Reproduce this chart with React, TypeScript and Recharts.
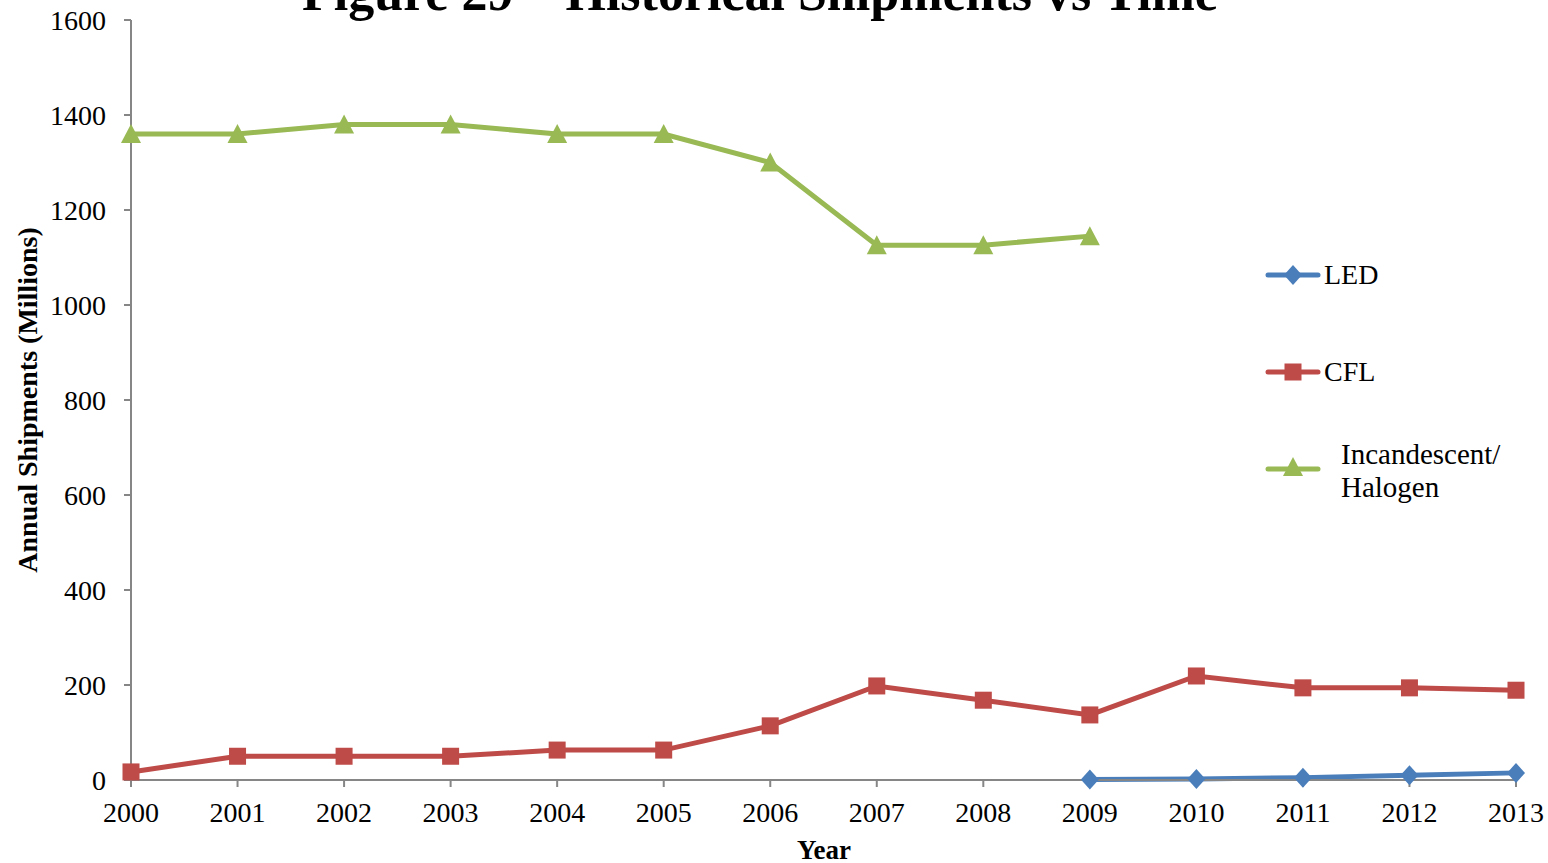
import { CartesianGrid, Line, LineChart, XAxis, YAxis } from "recharts";

const years = ["2000", "2001", "2002", "2003", "2004", "2005", "2006", "2007", "2008", "2009", "2010", "2011", "2012", "2013"];
const ledValues = [null, null, null, null, null, null, null, null, null, 1, 2, 5, 10, 15];
const cflValues = [17, 50, 50, 50, 63, 63, 114, 198, 168, 137, 219, 194, 194, 189];
const incandescentValues = [1360, 1360, 1380, 1380, 1360, 1360, 1300, 1126, 1126, 1145, null, null, null, null];
const yTicks = [0, 200, 400, 600, 800, 1000, 1200, 1400, 1600];

const chartData = years.map((year, i) => ({
  year,
  led: ledValues[i],
  cfl: cflValues[i],
  incandescent: incandescentValues[i],
}));

const LED_COLOR = "#4A7EBB";
const CFL_COLOR = "#BE4B48";
const INC_COLOR = "#98B954";
const AXIS_COLOR = "#868686";
const FONT = "'Liberation Serif', 'DejaVu Serif', serif";

function diamond(cx: number, cy: number, color: string) {
  return <path d={`M${cx},${cy - 10} L${cx + 9},${cy} L${cx},${cy + 10} L${cx - 9},${cy} Z`} fill={color} />;
}

function square(cx: number, cy: number, color: string) {
  return <rect x={cx - 8.5} y={cy - 8.5} width={17} height={17} fill={color} />;
}

function triangle(cx: number, cy: number, color: string) {
  return <path d={`M${cx},${cy - 10} L${cx + 10},${cy + 9} L${cx - 10},${cy + 9} Z`} fill={color} />;
}

function makeDot(shape: typeof diamond, color: string) {
  return (props: any) => {
    const { cx, cy, index, value } = props;
    if (value == null || cy == null || Number.isNaN(cy)) return <g key={`d-${index}`} />;
    return <g key={`d-${index}`}>{shape(cx, cy, color)}</g>;
  };
}

export default function App() {
  return (
    <div style={{ position: "absolute", left: 0, top: 0, width: 1548, height: 863, background: "#fff", overflow: "hidden" }}>
      <LineChart width={1548} height={863} data={chartData} margin={{ top: 20, right: 32, bottom: 0, left: 0 }}>
        <CartesianGrid horizontal={false} vertical={false} />
        <XAxis
          dataKey="year"
          height={83}
          stroke={AXIS_COLOR}
          strokeWidth={2}
          tickSize={7}
          tickMargin={15}
          interval={0}
          tick={{ fill: "#000", fontSize: 28, fontFamily: FONT }}
        />
        <YAxis
          width={131}
          domain={[0, 1600]}
          ticks={yTicks}
          stroke={AXIS_COLOR}
          strokeWidth={2}
          tickSize={7}
          tickMargin={18}
          tick={{ fill: "#000", fontSize: 28, fontFamily: FONT }}
        />
        <Line
          dataKey="incandescent"
          stroke={INC_COLOR}
          strokeWidth={5}
          dot={makeDot(triangle, INC_COLOR)}
          isAnimationActive={false}
        />
        <Line
          dataKey="cfl"
          stroke={CFL_COLOR}
          strokeWidth={5}
          dot={makeDot(square, CFL_COLOR)}
          isAnimationActive={false}
        />
        <Line
          dataKey="led"
          stroke={LED_COLOR}
          strokeWidth={5}
          dot={makeDot(diamond, LED_COLOR)}
          isAnimationActive={false}
        />
      </LineChart>
      <svg width={1548} height={863} style={{ position: "absolute", left: 0, top: 0, pointerEvents: "none" }} fontFamily={FONT}>
        <text x={760} y={10} textAnchor="middle" fontSize={52} fontWeight="bold" fill="#000">
          Figure 29 – Historical Shipments vs Time
        </text>
        <text
          x={37}
          y={400}
          transform="rotate(-90, 37, 400)"
          textAnchor="middle"
          fontSize={28}
          fontWeight="bold"
          fill="#000"
        >
          Annual Shipments (Millions)
        </text>
        <text x={824} y={859} textAnchor="middle" fontSize={27} fontWeight="bold" fill="#000">
          Year
        </text>

        <line x1={1268} y1={275} x2={1318} y2={275} stroke={LED_COLOR} strokeWidth={5} strokeLinecap="round" />
        {diamond(1293, 275, LED_COLOR)}
        <text x={1324} y={284} fontSize={28} fill="#000">LED</text>

        <line x1={1268} y1={372} x2={1318} y2={372} stroke={CFL_COLOR} strokeWidth={5} strokeLinecap="round" />
        {square(1293, 372, CFL_COLOR)}
        <text x={1324} y={381} fontSize={28} fill="#000">CFL</text>

        <line x1={1268} y1={469} x2={1318} y2={469} stroke={INC_COLOR} strokeWidth={5} strokeLinecap="round" />
        {triangle(1293, 467, INC_COLOR)}
        <text x={1341} y={464} fontSize={29} fill="#000">Incandescent/</text>
        <text x={1341} y={497} fontSize={29} fill="#000">Halogen</text>
      </svg>
    </div>
  );
}
